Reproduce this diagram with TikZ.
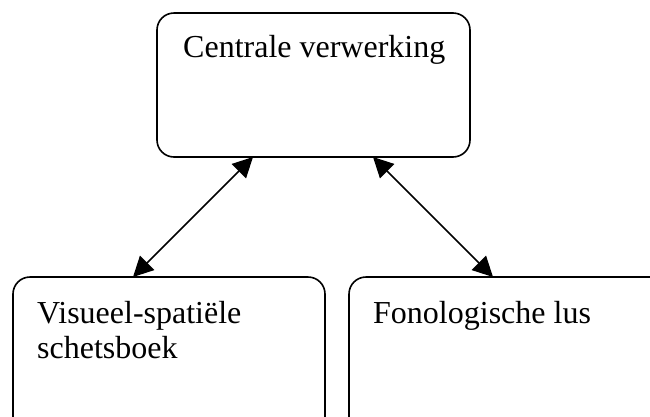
\documentclass[tikz,border=0pt]{standalone}
\usepackage{fontspec}
\setmainfont{Liberation Serif}
\usetikzlibrary{arrows.meta,calc}
\begin{document}
\begin{tikzpicture}[x=1pt,y=-1pt,
  box/.style={draw, line width=1.6pt, rounded corners=17pt, anchor=north west, inner sep=0pt, outer sep=0pt},
  lbl/.style={anchor=base west, inner sep=0pt, font=\fontsize{32}{35}\selectfont},
  link/.style={line width=1.6pt, {Triangle[length=20pt,width=20pt]}-{Triangle[length=20pt,width=20pt]}}]
\useasboundingbox (0,0) rectangle (650,416);
\clip (0,0) rectangle (650,416);
\node[box, minimum width=313pt, minimum height=144pt] (cv) at (157,13) {};
\node[box, minimum width=312pt, minimum height=170pt] (vs) at (13,277) {};
\node[box, minimum width=330pt, minimum height=170pt] (fl) at (349,277) {};
\node[lbl] (tcv) at (183,57) {Centrale verwerking};
\node[lbl] (tvs) at (37,323) {\begin{tabular}[t]{@{}l@{}}Visueel-spatiële\\schetsboek\end{tabular}};
\node[lbl] (tfl) at (373,323) {Fonologische lus};
\draw[link] ($(cv.south west)+(96,0)$) -- ($(vs.north west)+(120,0)$);
\draw[link] ($(cv.south west)+(216,0)$) -- ($(fl.north west)+(144,0)$);
\end{tikzpicture}
\end{document}
